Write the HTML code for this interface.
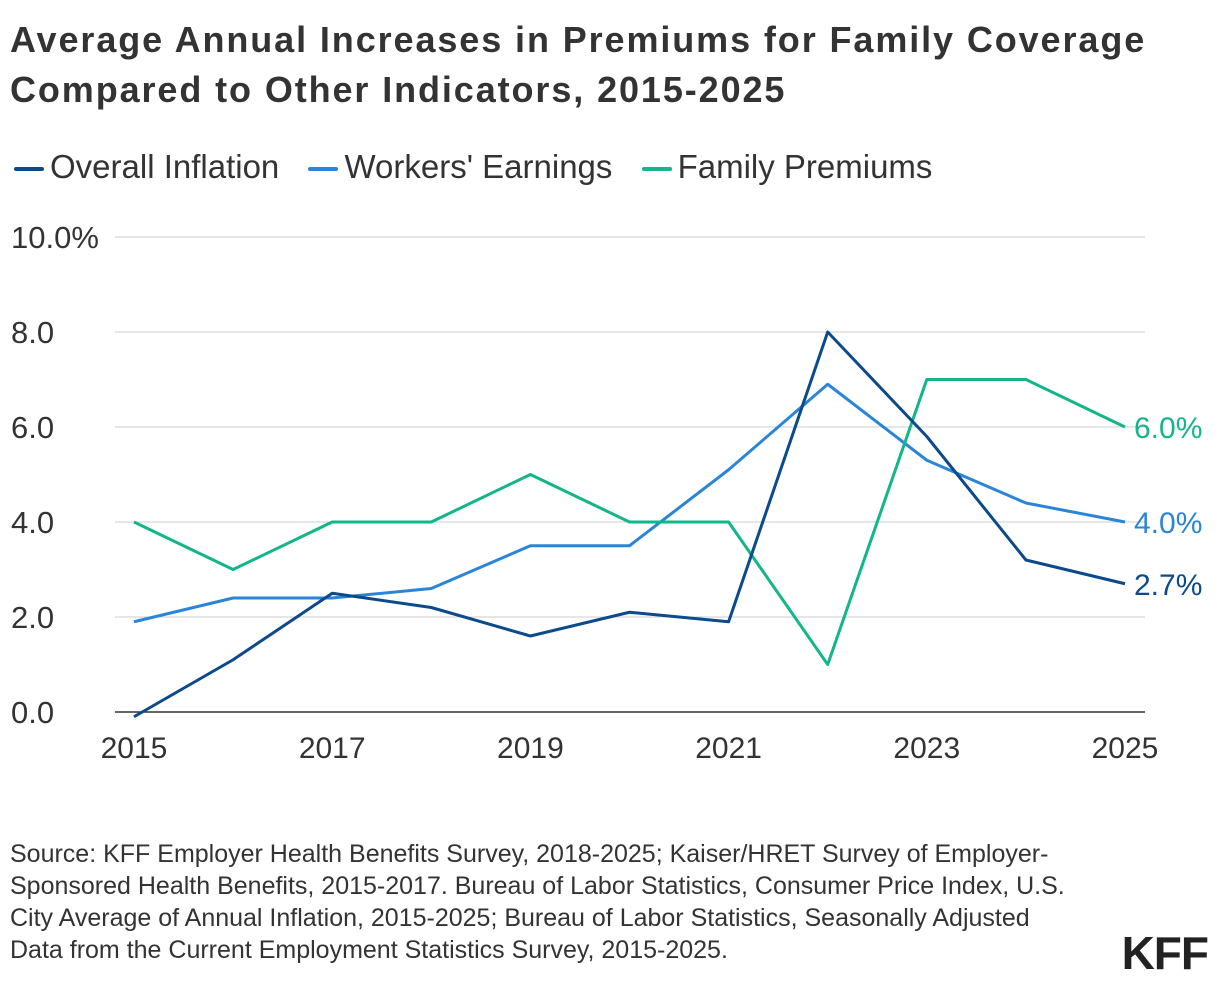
<!DOCTYPE html>
<html><head><meta charset="utf-8">
<style>
body{margin:0;width:1220px;height:984px;background:#fff;font-family:"Liberation Sans",sans-serif;color:#333;overflow:hidden;position:relative}
h1{position:absolute;left:10px;top:15px;margin:0;font-size:36px;line-height:50px;font-weight:bold;color:#333;letter-spacing:1.9px;white-space:nowrap}
.legend{position:absolute;left:14px;top:148px;font-size:33px;color:#333;white-space:nowrap}
.legend span{margin-right:20px}
.legend i{display:inline-block;width:30px;height:4px;border-radius:2px;vertical-align:middle;margin-right:6px}
.src{position:absolute;left:10px;top:838px;font-size:25px;line-height:32px;color:#333;white-space:nowrap}
.logo{position:absolute;right:12px;top:926px;font-size:46px;font-weight:bold;color:#222;letter-spacing:-1px}
</style></head><body>
<h1>Average Annual Increases in Premiums for Family Coverage<br>Compared to Other Indicators, 2015-2025</h1>
<div class="legend">
<span><i style="background:#0b4a8b"></i>Overall Inflation</span>
<span><i style="background:#2a85d8"></i>Workers' Earnings</span>
<span><i style="background:#13b58a"></i>Family Premiums</span>
</div>
<svg id="chart" width="1220" height="800" style="position:absolute;left:0;top:0"></svg>
<div class="src">Source: KFF Employer Health Benefits Survey, 2018-2025; Kaiser/HRET Survey of Employer-<br>Sponsored Health Benefits, 2015-2017. Bureau of Labor Statistics, Consumer Price Index, U.S.<br>City Average of Annual Inflation, 2015-2025; Bureau of Labor Statistics, Seasonally Adjusted<br>Data from the Current Employment Statistics Survey, 2015-2025.</div>
<div class="logo">KFF</div>
<script>
const years=[2015,2016,2017,2018,2019,2020,2021,2022,2023,2024,2025];
const inflation=[-0.1,1.1,2.5,2.2,1.6,2.1,1.9,8.0,5.8,3.2,2.7];
const earnings=[1.9,2.4,2.4,2.6,3.5,3.5,5.1,6.9,5.3,4.4,4.0];
const premiums=[4,3,4,4,5,4,4,1,7,7,6];
const yTicks=[0,2,4,6,8,10];
const yTickLabels=["0.0","2.0","4.0","6.0","8.0","10.0%"];
const xTickLabels=["2015","2017","2019","2021","2023","2025"];
const ns="http://www.w3.org/2000/svg";
const svg=document.getElementById('chart');
const x=v=>134+(v-2015)*(1125-134)/10;
const y=v=>712-v*47.5;
function mk(t,a){const e=document.createElementNS(ns,t);for(const k in a)e.setAttribute(k,a[k]);svg.appendChild(e);return e;}
yTicks.forEach((t,i)=>{
 const l=mk('line',{x1:115,x2:1145,y1:y(t),y2:y(t),stroke:t===0?'#333':'#ccc','stroke-width':t===0?1.5:1});
 
 
 const tx=mk('text',{x:11,y:y(t)+11,'font-size':31,fill:'#333'});
 tx.textContent=yTickLabels[i];
 
 
});
xTickLabels.forEach(s=>{
 const tx=mk('text',{x:x(+s),y:758,'font-size':30,fill:'#333','text-anchor':'middle'});
 tx.textContent=s;
 
 
});
function series(vals,color,name){
 const p=mk('polyline',{points:vals.map((v,i)=>x(years[i])+','+y(v)).join(' '),fill:'none',stroke:color,'stroke-width':3,'stroke-linejoin':'round'});
 
 
 const last=vals[vals.length-1];
 const t=mk('text',{x:1134,y:y(last)+11,'font-size':30,fill:color});
 t.textContent=last.toFixed(1)+'%';
 
 
}
series(earnings,'#2a85d8','earnings');
series(premiums,'#13b58a','premiums');
series(inflation,'#0b4a8b','inflation');
</script>
</body></html>
